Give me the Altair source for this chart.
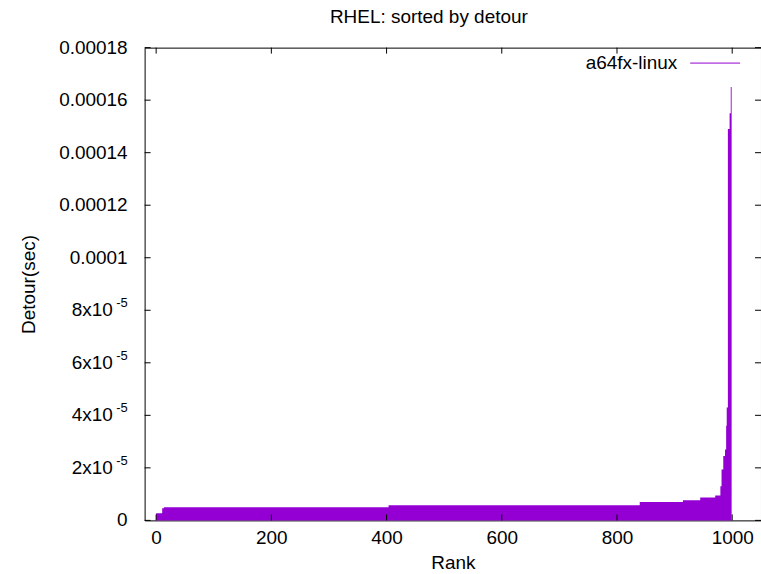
import altair as alt
import numpy as np
import pandas as pd

# Sorted detour per rank, stored as run lengths (value in seconds, number of ranks)
run_detour = [
    2.7e-6, 4.6e-6, 5.0e-6, 5.8e-6, 7.0e-6, 7.7e-6, 8.7e-6, 9.5e-6,
    1.30e-5, 1.94e-5, 2.45e-5, 2.70e-5, 3.6e-5, 4.3e-5,
    1.49e-4, 1.55e-4, 1.65e-4,
]
run_count = [
    11, 3, 390, 436, 75, 30, 26, 9,
    2, 3, 3, 2, 1, 2,
    3, 2, 2,
]

detour = np.repeat(run_detour, run_count)
df = pd.DataFrame({"rank": np.arange(len(detour)), "detour": detour, "base": 0.0})

x_ticks = [0, 200, 400, 600, 800, 1000]
y_ticks = [0, 2e-5, 4e-5, 6e-5, 8e-5, 1e-4, 1.2e-4, 1.4e-4, 1.6e-4, 1.8e-4]
y_label_main = ["0", "2x10", "4x10", "6x10", "8x10", "0.0001", "0.00012", "0.00014", "0.00016", "0.00018"]
y_label_sup = ["", "-5", "-5", "-5", "-5", "", "", "", "", ""]

W, H = 618, 474
FONT = "Liberation Sans"
FS = 19
COLOR = "#9400d3"

xs = alt.Scale(domain=[-20, 1050], nice=False, zero=False)
ys = alt.Scale(domain=[0, 1.8e-4], nice=False)

# one impulse per rank, drawn as a single stepped area so neighbouring ranks join
impulses = alt.Chart(df).mark_area(color=COLOR, interpolate="step", opacity=1).encode(
    x=alt.X("rank:Q", scale=xs,
            axis=alt.Axis(values=x_ticks, format="d", ticks=False, domain=False, grid=False,
                          labelFont=FONT, labelFontSize=FS, labelColor="black",
                          labelPadding=8, title="Rank", titleFont=FONT,
                          titleFontSize=FS, titleFontWeight="normal",
                          titleColor="black", titlePadding=6)),
    y=alt.Y("detour:Q", scale=ys,
            axis=alt.Axis(labels=False, ticks=False, domain=False, grid=False,
                          title="Detour(sec)", titleFont=FONT, titleFontSize=FS,
                          titleFontWeight="normal", titleColor="black",
                          titlePadding=106)),
    y2="base:Q",
)

xt = alt.Chart(pd.DataFrame({"t": x_ticks}))
yt = alt.Chart(pd.DataFrame({"t": y_ticks, "main": y_label_main, "sup": y_label_sup}))

TL = 6
tick_style = dict(color="black", strokeWidth=1)
x_tick_bottom = xt.mark_rule(**tick_style).encode(
    x=alt.X("t:Q", scale=xs), y=alt.value(H), y2=alt.value(H - TL))
x_tick_top = xt.mark_rule(**tick_style).encode(
    x=alt.X("t:Q", scale=xs), y=alt.value(0), y2=alt.value(TL))
y_tick_left = yt.mark_rule(**tick_style).encode(
    y=alt.Y("t:Q", scale=ys), x=alt.value(0), x2=alt.value(TL))
y_tick_right = yt.mark_rule(**tick_style).encode(
    y=alt.Y("t:Q", scale=ys), x=alt.value(W), x2=alt.value(W - TL))

txt = dict(font=FONT, fontSize=FS, color="black", align="right", baseline="middle")
y_plain = yt.transform_filter("datum.sup == ''").mark_text(**txt).encode(
    y=alt.Y("t:Q", scale=ys), x=alt.value(-17), text="main:N")
y_base = yt.transform_filter("datum.sup != ''").mark_text(**txt).encode(
    y=alt.Y("t:Q", scale=ys), x=alt.value(-32), text="main:N")
y_sup = yt.transform_filter("datum.sup != ''").mark_text(
    font=FONT, fontSize=13, color="black", align="right", baseline="middle", dy=-7
).encode(y=alt.Y("t:Q", scale=ys), x=alt.value(-17), text="sup:N")

legend_text = alt.Chart(pd.DataFrame({"s": ["a64fx-linux"]})).mark_text(
    **txt).encode(x=alt.value(534), y=alt.value(15), text="s:N")
legend_line = alt.Chart(pd.DataFrame({"s": ["a64fx-linux"]})).mark_rule(
    color=COLOR, strokeWidth=1).encode(x=alt.value(547), x2=alt.value(597), y=alt.value(15.5))

chart = alt.layer(
    impulses, x_tick_bottom, x_tick_top, y_tick_left, y_tick_right,
    y_plain, y_base, y_sup, legend_text, legend_line,
).properties(
    width=W, height=H,
    title=alt.TitleParams("RHEL: sorted by detour", font=FONT, fontSize=FS,
                          fontWeight="normal", color="black", offset=12, dx=-24),
    autosize=alt.AutoSizeParams(type="none"),
    padding={"left": 145, "top": 47, "right": 0, "bottom": 53},
    background="white",
).configure_view(stroke="black", strokeWidth=1)

chart.save("out.html", embed_options={"renderer": "svg", "actions": False})
